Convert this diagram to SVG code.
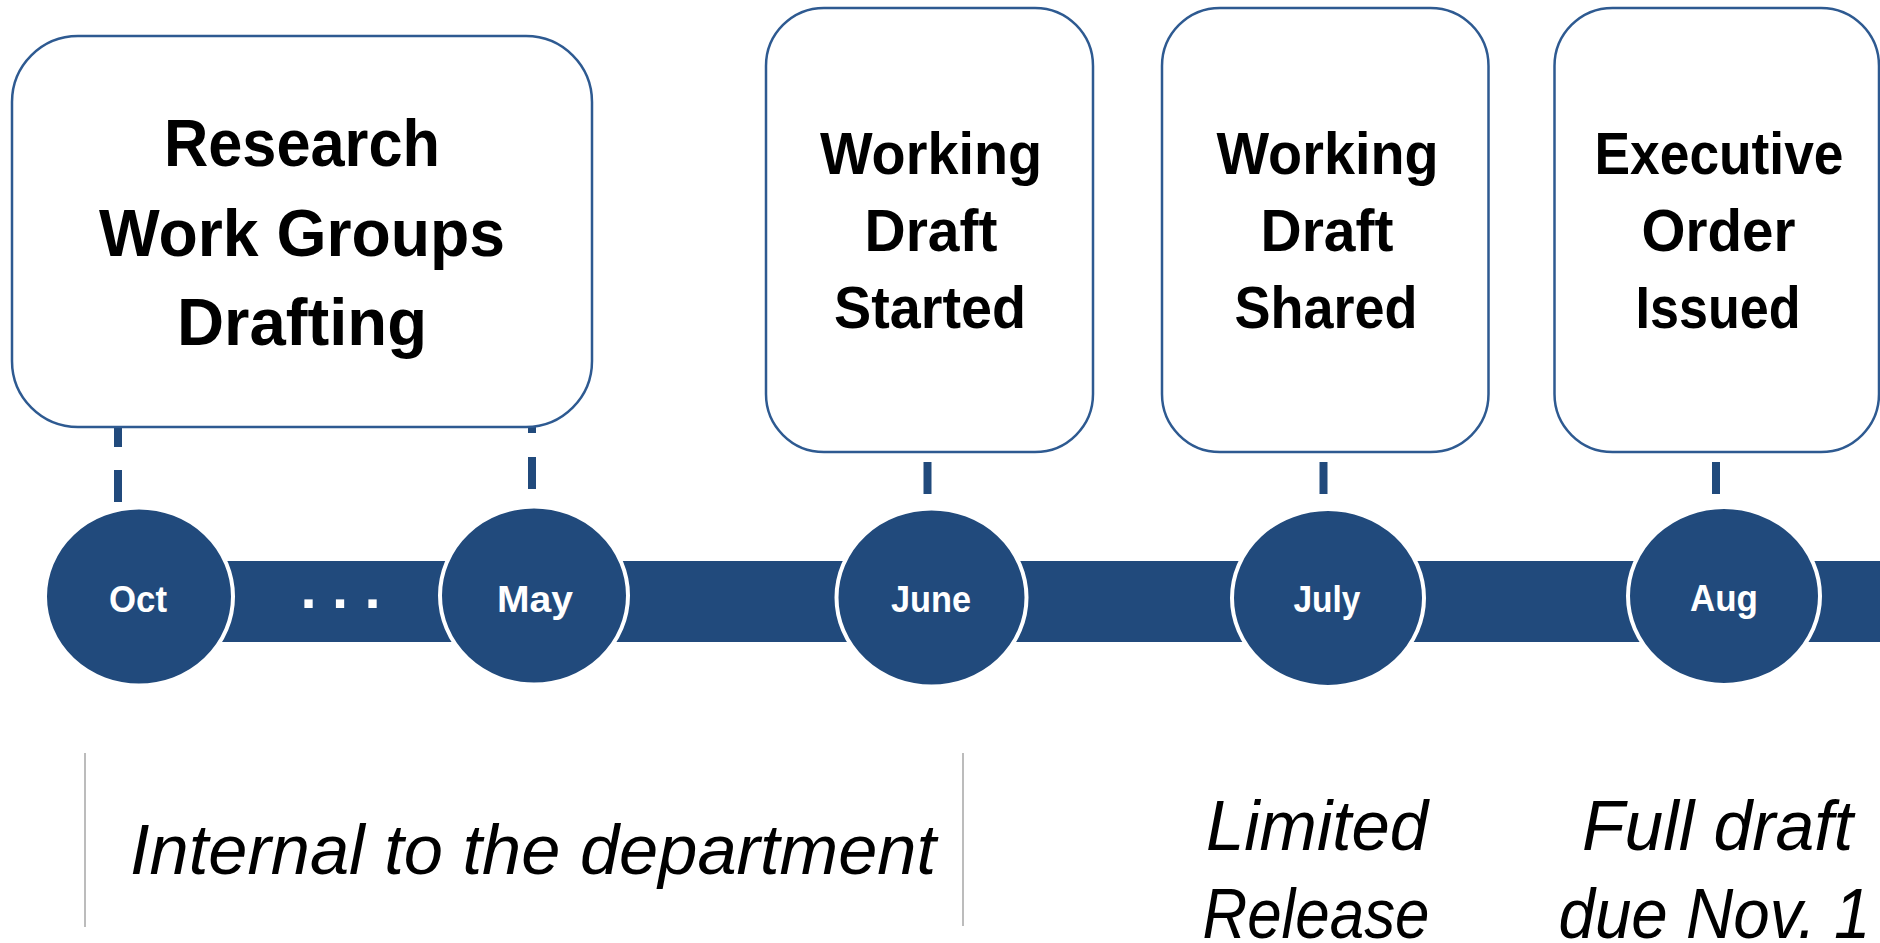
<svg xmlns="http://www.w3.org/2000/svg" width="1880" height="943" viewBox="0 0 1880 943">
  <style>
    .box { fill: #ffffff; stroke: #2E5A91; stroke-width: 2.5; }
    .head { font-family: "Liberation Sans", Arial, sans-serif; font-weight: bold; fill: #000000; text-anchor: middle; }
    .h1 { font-size: 67px; }
    .h2 { font-size: 59px; }
    .dot { fill: #214A7C; stroke: #ffffff; stroke-width: 4; }
    .month { font-family: "Liberation Sans", Arial, sans-serif; font-weight: bold; font-size: 37px; fill: #ffffff; text-anchor: middle; }
    .tick { stroke: #214A7C; stroke-width: 8; fill: none; }
    .note { font-family: "Liberation Sans", Arial, sans-serif; font-style: italic; font-size: 70px; fill: #000000; text-anchor: middle; }
    .rule { stroke: #A6A6A6; stroke-width: 1.5; }
  </style>

  <rect width="1880" height="943" fill="#ffffff"/>

  <!-- dashed ticks joining each box to its month -->
  <g id="connectors">
    <line class="tick" x1="118" y1="415" x2="118" y2="502" stroke-dasharray="32 23"/>
    <line class="tick" x1="532" y1="401" x2="532" y2="489" stroke-dasharray="32 24"/>
    <line class="tick" x1="927.5" y1="462" x2="927.5" y2="494"/>
    <line class="tick" x1="1323.5" y1="462" x2="1323.5" y2="494"/>
    <line class="tick" x1="1716" y1="462" x2="1716" y2="494"/>
  </g>

  <!-- timeline band -->
  <g id="timeline">
    <rect x="139" y="561" width="1745" height="81" fill="#214A7C"/>
    <text class="month" x="308.5 340 372.5" y="608" style="font-size:58px">...</text>
  </g>

  <!-- milestone boxes -->
  <g id="box-research">
    <rect class="box" x="12" y="36" width="580" height="391" rx="66" ry="66"/>
    <text class="head h1" x="302" y="166" textLength="276" lengthAdjust="spacingAndGlyphs">Research</text>
    <text class="head h1" x="302" y="256" textLength="406" lengthAdjust="spacingAndGlyphs">Work Groups</text>
    <text class="head h1" x="302" y="345" textLength="250" lengthAdjust="spacingAndGlyphs">Drafting</text>
  </g>

  <g id="box-started">
    <rect class="box" x="766" y="8" width="327" height="444" rx="58" ry="58"/>
    <text class="head h2" x="931" y="174" textLength="222" lengthAdjust="spacingAndGlyphs">Working</text>
    <text class="head h2" x="931" y="251" textLength="133" lengthAdjust="spacingAndGlyphs">Draft</text>
    <text class="head h2" x="930" y="328" textLength="192" lengthAdjust="spacingAndGlyphs">Started</text>
  </g>

  <g id="box-shared">
    <rect class="box" x="1162" y="8" width="326.5" height="444" rx="58" ry="58"/>
    <text class="head h2" x="1327.5" y="174" textLength="222" lengthAdjust="spacingAndGlyphs">Working</text>
    <text class="head h2" x="1327" y="251" textLength="133" lengthAdjust="spacingAndGlyphs">Draft</text>
    <text class="head h2" x="1326" y="328" textLength="183" lengthAdjust="spacingAndGlyphs">Shared</text>
  </g>

  <g id="box-issued">
    <rect class="box" x="1554.5" y="8" width="324.5" height="444" rx="58" ry="58"/>
    <text class="head h2" x="1719" y="174" textLength="249" lengthAdjust="spacingAndGlyphs">Executive</text>
    <text class="head h2" x="1718.5" y="251" textLength="154" lengthAdjust="spacingAndGlyphs">Order</text>
    <text class="head h2" x="1718" y="328" textLength="165" lengthAdjust="spacingAndGlyphs">Issued</text>
  </g>

  <!-- month markers -->
  <g id="month-oct">
    <ellipse class="dot" cx="139" cy="596.5" rx="94" ry="89"/>
    <text class="month" x="138" y="612" textLength="58" lengthAdjust="spacingAndGlyphs">Oct</text>
  </g>
  <g id="month-may">
    <ellipse class="dot" cx="534" cy="595.5" rx="94" ry="89"/>
    <text class="month" x="535" y="612" textLength="76" lengthAdjust="spacingAndGlyphs">May</text>
  </g>
  <g id="month-june">
    <ellipse class="dot" cx="931.5" cy="597.5" rx="95" ry="89"/>
    <text class="month" x="931" y="612" textLength="80" lengthAdjust="spacingAndGlyphs">June</text>
  </g>
  <g id="month-july">
    <ellipse class="dot" cx="1328" cy="598" rx="96" ry="89"/>
    <text class="month" x="1327" y="612" textLength="67" lengthAdjust="spacingAndGlyphs">July</text>
  </g>
  <g id="month-aug">
    <ellipse class="dot" cx="1724" cy="596" rx="96" ry="89"/>
    <text class="month" x="1724" y="611" textLength="68" lengthAdjust="spacingAndGlyphs">Aug</text>
  </g>

  <!-- audience notes -->
  <g id="note-internal">
    <line class="rule" x1="85" y1="753" x2="85" y2="927"/>
    <line class="rule" x1="963" y1="753" x2="963" y2="926"/>
    <text class="note" x="533" y="874" textLength="806" lengthAdjust="spacingAndGlyphs">Internal to the department</text>
  </g>
  <g id="note-limited">
    <text class="note" x="1317" y="850" textLength="222" lengthAdjust="spacingAndGlyphs">Limited</text>
    <text class="note" x="1316" y="938" textLength="227" lengthAdjust="spacingAndGlyphs">Release</text>
  </g>
  <g id="note-full">
    <text class="note" x="1717.5" y="850" textLength="271" lengthAdjust="spacingAndGlyphs">Full draft</text>
    <text class="note" x="1714.5" y="938" textLength="312" lengthAdjust="spacingAndGlyphs">due Nov. 1</text>
  </g>
</svg>
